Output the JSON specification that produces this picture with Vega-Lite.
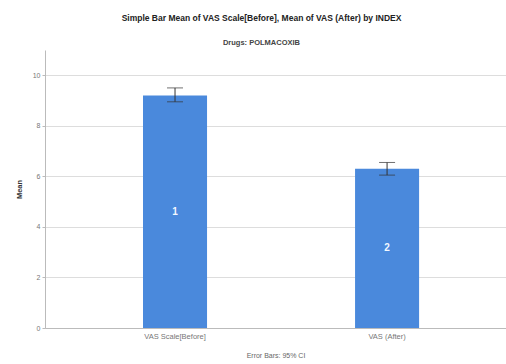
{
  "$schema": "https://vega.github.io/schema/vega-lite/v6.json",
  "width": 461,
  "height": 278,
  "autosize": {"type": "none"},
  "padding": {"left": 45, "top": 50, "right": 0, "bottom": 36},
  "background": "white",
  "title": {
    "text": "Simple Bar Mean of VAS Scale[Before], Mean of VAS (After) by INDEX",
    "subtitle": "Drugs: POLMACOXIB",
    "anchor": "middle",
    "frame": "group",
    "dx": -14,
    "offset": 4,
    "font": "Liberation Sans",
    "fontSize": 8.5,
    "fontWeight": "bold",
    "color": "#222222",
    "subtitleFont": "Liberation Sans",
    "subtitleFontSize": 7.5,
    "subtitleFontWeight": "bold",
    "subtitleColor": "#444444",
    "subtitlePadding": 16
  },
  "config": {
    "view": {"stroke": null},
    "font": "Liberation Sans"
  },
  "data": {
    "values": [
      {"variable": "VAS Scale[Before]", "mean": 9.2, "lo": 8.95, "hi": 9.5, "tag": "1"},
      {"variable": "VAS (After)", "mean": 6.3, "lo": 6.05, "hi": 6.55, "tag": "2"}
    ]
  },
  "encoding": {
    "x": {
      "field": "variable",
      "type": "nominal",
      "sort": null,
      "scale": {"paddingInner": 0.698, "paddingOuter": 0.436, "align": 0.53},
      "axis": {
        "title": "Error Bars: 95% CI",
        "titleFontSize": 7,
        "titleFontWeight": "normal",
        "titleColor": "#666666",
        "titlePadding": 12,
        "labelAngle": 0,
        "labelFontSize": 7.5,
        "labelColor": "#777777",
        "labelPadding": 4,
        "ticks": false,
        "domainColor": "#bbbbbb",
        "grid": false
      }
    }
  },
  "layer": [
    {
      "encoding": {
        "y": {
          "type": "quantitative",
          "scale": {"domain": [0, 11], "nice": false},
          "axis": {
            "title": "Mean",
            "titleFontSize": 7.5,
            "titleFontWeight": "bold",
            "titleColor": "#333333",
            "titlePadding": 9,
            "values": [0, 2, 4, 6, 8, 10],
            "labelFontSize": 7,
            "labelColor": "#777777",
            "tickSize": 3,
            "tickColor": "#bbbbbb",
            "domainColor": "#bbbbbb",
            "grid": true,
            "gridColor": "#dddddd"
          }
        }
      },
      "layer": [
        {
          "mark": {"type": "bar", "color": "#4A89DC"},
          "encoding": {"y": {"field": "mean", "type": "quantitative"}}
        },
        {
          "mark": {"type": "rule", "color": "#333333", "strokeWidth": 1},
          "encoding": {
            "y": {"field": "lo", "type": "quantitative"},
            "y2": {"field": "hi"}
          }
        },
        {
          "mark": {"type": "tick", "color": "#333333", "thickness": 1, "size": 16, "orient": "horizontal"},
          "encoding": {"y": {"field": "lo", "type": "quantitative"}}
        },
        {
          "mark": {"type": "tick", "color": "#333333", "thickness": 1, "size": 16, "orient": "horizontal"},
          "encoding": {"y": {"field": "hi", "type": "quantitative"}}
        }
      ]
    },
    {
      "mark": {"type": "text", "color": "#f4f8ff", "fontSize": 10, "fontWeight": "bold", "baseline": "middle"},
      "encoding": {
        "y": {
          "field": "mean",
          "type": "quantitative",
          "scale": {"domain": [0, 22], "nice": false},
          "axis": null
        },
        "text": {"field": "tag"}
      }
    }
  ],
  "resolve": {"scale": {"y": "independent"}}
}
